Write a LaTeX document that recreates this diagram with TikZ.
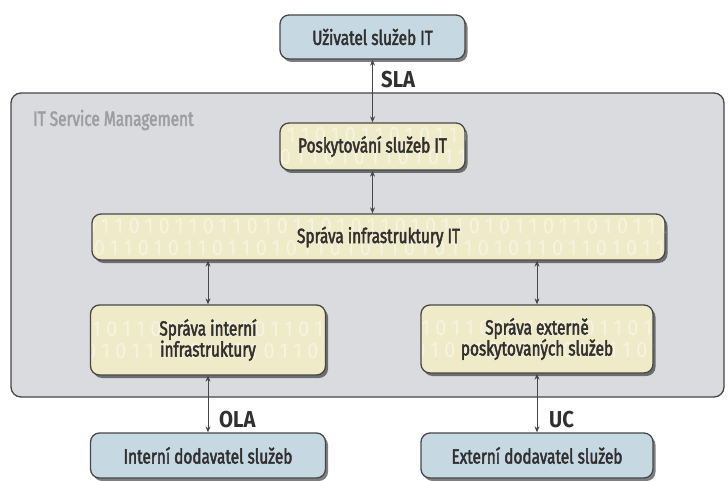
\documentclass[tikz,border=0pt]{standalone}
\usepackage{fontspec}
\setmainfont{Fira Sans}[FakeStretch=0.8]
\newfontfamily\boxfont{Fira Sans}[FakeStretch=0.75, FakeBold=2.2]
\newfontfamily\tagfont{Fira Sans}[FakeStretch=0.88]
\newfontfamily\bitfont{Fira Sans}[FakeStretch=0.9, LetterSpace=25]
\usetikzlibrary{shadows,arrows.meta}
\definecolor{bluebox}{HTML}{C6D8E2}
\definecolor{yellowbox}{HTML}{EFEBC9}
\definecolor{panel}{HTML}{D9DBDE}
\definecolor{edge}{HTML}{474747}
\definecolor{ink}{HTML}{303030}
\definecolor{bitcol}{HTML}{F6F3E0}
\definecolor{titlegray}{HTML}{9C9EA2}
\newcommand{\bitrow}{01011011010110101101011010110110101101011010110101101101011010110101101011011010}
\tikzset{
  box/.style={draw=edge, line width=1.3pt, rounded corners=9pt, text=ink,
    font=\boxfont\fontsize{20.5}{21}\selectfont, align=center, inner sep=2pt,
    drop shadow={shadow xshift=2.5pt, shadow yshift=-3pt, fill=black, opacity=0.5}},
  bluenode/.style={box, fill=bluebox},
  yellownode/.style={box, fill=yellowbox,
    path picture={
      \node[text=bitcol, font=\bitfont\fontsize{22}{22}\selectfont] at ([yshift=11pt]path picture bounding box.center) {\bitrow};
      \node[text=bitcol, font=\bitfont\fontsize{22}{22}\selectfont] at ([xshift=9pt,yshift=-11pt]path picture bounding box.center) {\bitrow};
    }},
  link/.style={draw=edge, line width=1pt, {Stealth[length=6pt,width=5pt]}-{Stealth[length=6pt,width=5pt]}},
  tag/.style={text=ink, font=\tagfont\fontsize{23}{25}\selectfont\bfseries, anchor=west, inner sep=0pt}
}
\begin{document}
\begin{tikzpicture}[x=1pt,y=-1pt]
\useasboundingbox (0,0) rectangle (728,481);
\fill[white] (0,0) rectangle (728,481);

% IT Service Management panel
\draw[fill=panel, draw=edge, line width=1.3pt, rounded corners=10pt] (11,93) rectangle (724,397);
\node[text=titlegray, font=\boxfont\fontsize{20.5}{23}\selectfont, anchor=west, inner sep=0pt] (itsm) at (33,120) {IT Service Management};

% boxes
\node[bluenode, minimum width=185pt, minimum height=44pt] (user) at (372.5,37) {Uživatel služeb IT};
\node[yellownode, minimum width=185pt, minimum height=47pt] (prov) at (372.5,146.5) {Poskytování služeb IT};
\node[yellownode, minimum width=573pt, minimum height=46pt] (infra) at (378.5,237) {Správa infrastruktury IT};
\node[yellownode, minimum width=235pt, minimum height=70pt] (intern) at (208,340) {Správa interní\\infrastruktury};
\node[yellownode, minimum width=232pt, minimum height=68pt] (extern) at (537,339) {Správa externě\\poskytovaných služeb};
\node[bluenode, minimum width=235pt, minimum height=45pt] (dodint) at (208,455.5) {Interní dodavatel služeb};
\node[bluenode, minimum width=232pt, minimum height=45pt] (dodext) at (537,455.5) {Externí dodavatel služeb};

% connectors
\draw[link] (user.south) -- (prov.north);
\draw[link] (prov.south) -- (prov.south |- infra.north);
\draw[link] (infra.south -| intern.north) -- (intern.north);
\draw[link] (infra.south -| extern.north) -- (extern.north);
\draw[link] (intern.south) -- (dodint.north);
\draw[link] (extern.south) -- (dodext.north);

% agreement labels
\node[tag] (sla) at (381,80) {SLA};
\node[tag] (ola) at (219,420) {OLA};
\node[tag] (uc) at (549,420) {UC};
\end{tikzpicture}
\end{document}
